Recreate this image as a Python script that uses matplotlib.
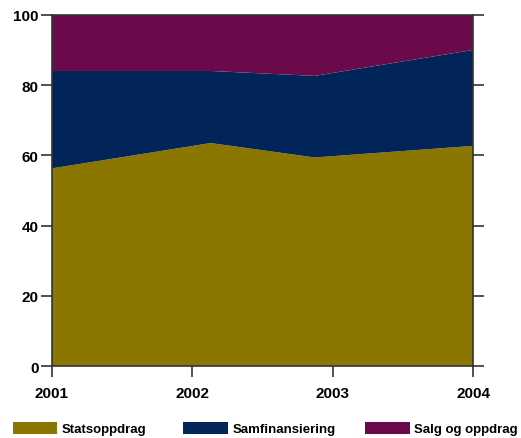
import matplotlib
matplotlib.use("Agg")
import matplotlib.pyplot as plt
from matplotlib.patches import Patch

years = [2001, 2002.13, 2002.87, 2004]
tick_years = [2001, 2002, 2003, 2004]
statsoppdrag = [56.3, 63.5, 59.4, 62.7]
samfinansiering = [27.7, 20.5, 23.2, 27.3]
salg = [16.0, 16.0, 17.4, 10.0]
labels = ["Statsoppdrag", "Samfinansiering", "Salg og oppdrag"]
colors = ["#8B7700", "#022559", "#6B0A4A"]
legend_x = [0.019, 0.347, 0.696]

plt.rcParams['font.family'] = ['Liberation Sans', 'DejaVu Sans']

fig = plt.figure(figsize=(5.21, 4.39), dpi=100)
ax = fig.add_axes([0.0998, 0.1633, 0.8087, 0.8009])
ax.stackplot(years, statsoppdrag, samfinansiering, salg, colors=colors, linewidth=0)
ax.set_xlim(2001, 2004)
ax.set_ylim(0, 100)
ax.set_xticks(tick_years)
ax.set_xticklabels([str(y) for y in tick_years])
ax.set_yticks([0, 20, 40, 60, 80, 100])
ax.tick_params(axis='y', which='both', direction='out', length=8, width=1.2,
               color='#333333', left=True, right=True, labelsize=11, pad=1.5)
ax.tick_params(axis='x', direction='out', length=8, width=1.2, color='#333333',
               labelsize=11, pad=6)
for lab in ax.get_xticklabels() + ax.get_yticklabels():
    lab.set_fontweight('bold')
for s in ax.spines.values():
    s.set_color('#333333')
    s.set_linewidth(1.2)

for lbl, c, x in zip(labels, colors, legend_x):
    fig.legend([Patch(facecolor=c, edgecolor='none')], [lbl], loc='lower left',
               bbox_to_anchor=(x, 0.0), frameon=False,
               prop={'weight': 'bold', 'size': 9.5},
               handlelength=3.4, handleheight=1.05, handletextpad=0.3,
               borderaxespad=0, borderpad=0.2)
fig.savefig("out.png", dpi=100)
